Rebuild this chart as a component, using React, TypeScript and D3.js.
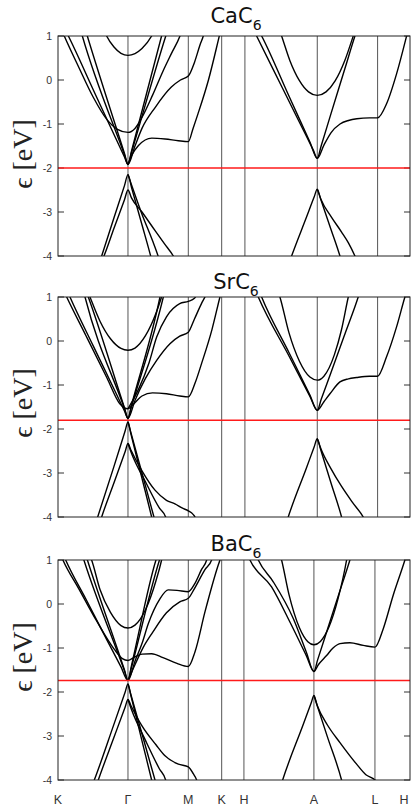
import React from 'react';
import * as d3 from 'd3';

type Pt = [number, number];

// ---------- data ----------
const kLabels = ['K', 'Γ', 'M', 'K', 'H', 'A', 'L', 'H'];
const kTicksCa = [0, 1, 1.862, 2.339, 2.671, 3.705, 4.567, 5.03];
const kTicksSr = [0, 1, 1.862, 2.339, 2.671, 3.705, 4.567, 5.03];
const kTicksBa = [0, 1, 1.862, 2.339, 2.657, 3.657, 4.529, 5.03];
const eTicks = [1, 0, -1, -2, -3, -4];
const metals = ['Ca', 'Sr', 'Ba'];
const fermiLevels = [-2.0, -1.8, -1.74];

const caBands: Pt[][] = [
  [[0.62, 1.3], [0.695, 1.0], [0.8, 0.75], [0.9, 0.607], [1, 0.56], [1.1, 0.6], [1.2, 0.714], [1.338, 1.0], [1.4, 1.2]],
  [[0.05, 1.15], [0.09, 1.0], [0.3, 0.28], [0.5, -0.38], [0.7, -0.9], [0.85, -1.12], [1, -1.19], [1.1, -1.1], [1.2, -0.85], [1.35, -0.35], [1.5, 0.2], [1.62, 0.6], [1.743, 1.0], [1.77, 1.12]],
  [[0.33, 1.1], [0.348, 1.0], [0.95, -1.7], [1, -1.92], [1.05, -1.62], [1.48, 1.0], [1.5, 1.12]],
  [[0.4, 1.1], [0.419, 1.0], [0.95, -1.67], [1, -1.92], [1.05, -1.65], [1.54, 1.0], [1.56, 1.1]],
  [[0.1, 1.15], [0.148, 1.0], [0.5, -0.21], [0.8, -1.24], [0.95, -1.75], [1, -1.92], [1.1, -1.5], [1.2, -1.1], [1.39, -0.62], [1.62, -0.16], [1.75, 0.0], [1.862, 0.09], [1.95, 0.4], [2.03, 0.8], [2.076, 1.0], [2.1, 1.15]],
  [[1, -1.92], [1.05, -1.72], [1.15, -1.49], [1.34, -1.32], [1.53, -1.34], [1.72, -1.38], [1.862, -1.4], [1.93, -1.1], [2.0, -0.77], [2.15, 0.0], [2.29, 0.9], [2.32, 1.1]],
  [[0.6, -4.12], [0.624, -4], [0.8, -3.13], [0.95, -2.4], [1, -2.15], [1.05, -2.44], [1.2, -3.29], [1.324, -4], [1.34, -4.1]],
  [[1, -2.15], [1.05, -2.38], [1.2, -3.05], [1.35, -3.65], [1.43, -4], [1.45, -4.1]],
  [[0.63, -4.1], [0.657, -4], [0.8, -3.37], [0.95, -2.72], [1, -2.5], [1.05, -2.68], [1.2, -3.0], [1.39, -3.43], [1.52, -3.72], [1.648, -4], [1.67, -4.06]],
  [[3.15, 1.2], [3.195, 1.0], [3.314, 0.44], [3.45, -0.015], [3.58, -0.27], [3.705, -0.35], [3.83, -0.27], [3.96, -0.02], [4.1, 0.45], [4.219, 1.0], [4.25, 1.15]],
  [[2.8, 1.12], [2.838, 1.0], [3.2, -0.16], [3.5, -1.12], [3.65, -1.6], [3.705, -1.78], [3.76, -1.5], [3.9, -0.77], [4.1, 0.26], [4.243, 1.0], [4.27, 1.13]],
  [[2.87, 1.12], [2.91, 1.0], [3.3, -0.365], [3.6, -1.41], [3.705, -1.78], [3.8, -1.48], [3.9, -1.2], [4.03, -1.0], [4.15, -0.92], [4.27, -0.88], [4.45, -0.86], [4.567, -0.86], [4.695, -0.54], [4.838, 0.14], [4.981, 1.0], [5.0, 1.12]],
  [[3.32, -4.08], [3.338, -4], [3.55, -3.12], [3.66, -2.66], [3.705, -2.48], [3.75, -2.69], [3.9, -3.39], [4.029, -4], [4.04, -4.06]],
  [[3.705, -2.48], [3.76, -2.72], [3.9, -3.1], [4.05, -3.45], [4.15, -3.7], [4.243, -4], [4.27, -4.1]],
];

const srBands: Pt[][] = [
  [[0.42, 1.15], [0.457, 1.0], [0.6, 0.45], [0.75, 0.05], [0.9, -0.17], [1, -0.21], [1.1, -0.16], [1.25, 0.12], [1.4, 0.63], [1.48, 1.0], [1.51, 1.15]],
  [[0.37, 1.1], [0.386, 1.0], [0.95, -1.535], [1, -1.76], [1.05, -1.46], [1.457, 1.0], [1.47, 1.1]],
  [[0.41, 1.1], [0.433, 1.0], [0.95, -1.52], [1, -1.76], [1.05, -1.49], [1.505, 1.0], [1.52, 1.1]],
  [[0.08, 1.15], [0.124, 1.0], [0.4, 0.12], [0.7, -0.84], [0.88, -1.42], [1, -1.54], [1.07, -1.45], [1.2, -1.25], [1.35, -1.18], [1.55, -1.2], [1.74, -1.25], [1.862, -1.27], [1.96, -0.95], [2.05, -0.52], [2.2, 0.26], [2.314, 1.0], [2.33, 1.1]],
  [[0.13, 1.15], [0.171, 1.0], [0.5, -0.1], [0.8, -1.09], [0.95, -1.59], [1, -1.76], [1.1, -1.35], [1.25, -0.85], [1.41, -0.44], [1.6, -0.06], [1.74, 0.11], [1.862, 0.2], [1.95, 0.5], [2.05, 0.85], [2.1, 1.0], [2.13, 1.1]],
  [[1, -1.54], [1.15, -1.1], [1.3, -0.5], [1.41, 0.09], [1.55, 0.55], [1.74, 0.85], [1.862, 0.9], [1.95, 0.97], [2.0, 1.1]],
  [[0.54, -4.13], [0.567, -4], [0.8, -2.85], [0.96, -2.04], [1, -1.84], [1.04, -2.1], [1.2, -3.12], [1.338, -4], [1.35, -4.08]],
  [[1, -1.84], [1.04, -2.07], [1.2, -3.0], [1.371, -4], [1.385, -4.08]],
  [[0.6, -4.12], [0.624, -4], [0.8, -3.22], [0.96, -2.51], [1, -2.33], [1.04, -2.47], [1.2, -2.95], [1.386, -3.39], [1.55, -3.62], [1.671, -3.7], [1.78, -3.8], [1.862, -3.86], [1.93, -3.94], [1.957, -4], [1.97, -4.1]],
  [[1, -2.33], [1.05, -2.55], [1.25, -3.2], [1.45, -3.8], [1.538, -4], [1.55, -4.08]],
  [[3.14, 1.15], [3.171, 1.0], [3.3, 0.19], [3.45, -0.46], [3.6, -0.82], [3.705, -0.89], [3.8, -0.8], [3.95, -0.31], [4.05, 0.25], [4.148, 1.0], [4.17, 1.15]],
  [[2.83, 1.12], [2.862, 1.0], [3.314, -0.38], [3.6, -1.26], [3.705, -1.576], [3.76, -1.33], [3.9, -0.72], [4.1, 0.16], [4.29, 1.0], [4.31, 1.1]],
  [[2.88, 1.12], [2.91, 1.0], [3.3, -0.26], [3.6, -1.23], [3.705, -1.576], [3.8, -1.38], [3.886, -1.2], [4.029, -0.93], [4.15, -0.86], [4.267, -0.83], [4.45, -0.8], [4.567, -0.8], [4.695, -0.36], [4.838, 0.32], [4.957, 1.0], [4.98, 1.12]],
  [[3.27, -4.1], [3.29, -4], [3.55, -2.885], [3.66, -2.41], [3.705, -2.22], [3.75, -2.45], [3.9, -3.22], [4.052, -4], [4.065, -4.08]],
  [[3.705, -2.22], [3.76, -2.46], [3.9, -2.9], [4.05, -3.3], [4.2, -3.65], [4.362, -4], [4.38, -4.05]],
];

const baBands: Pt[][] = [
  [[0.44, 1.15], [0.48, 1.0], [0.6, 0.33], [0.75, -0.19], [0.9, -0.49], [1, -0.545], [1.1, -0.48], [1.25, -0.13], [1.4, 0.53], [1.48, 1.0], [1.5, 1.15]],
  [[0.03, 1.15], [0.07, 1.0], [0.3, 0.34], [0.55, -0.38], [0.8, -1.02], [0.92, -1.24], [1, -1.283], [1.1, -1.2], [1.2, -1.14], [1.338, -1.13], [1.5, -1.22], [1.7, -1.35], [1.862, -1.42], [1.957, -1.09], [2.1, -0.18], [2.29, 0.886], [2.314, 1.0], [2.33, 1.1]],
  [[0.35, 1.1], [0.37, 1.0], [0.95, -1.52], [1, -1.74], [1.05, -1.4], [1.4, 1.0], [1.42, 1.1]],
  [[0.4, 1.1], [0.42, 1.0], [0.95, -1.5], [1, -1.74], [1.05, -1.44], [1.45, 1.0], [1.47, 1.1]],
  [[0.07, 1.15], [0.11, 1.0], [0.4, 0.107], [0.7, -0.82], [0.9, -1.43], [1, -1.74], [1.1, -1.3], [1.2, -0.9], [1.29, -0.45], [1.45, 0.1], [1.576, 0.32], [1.7, 0.31], [1.862, 0.28], [1.95, 0.45], [2.05, 0.78], [2.124, 1.0], [2.14, 1.1]],
  [[1, -1.74], [1.1, -1.38], [1.22, -0.98], [1.35, -0.65], [1.55, -0.2], [1.74, 0.05], [1.862, 0.13], [1.95, 0.35], [2.1, 0.78], [2.195, 1.0], [2.21, 1.1]],
  [[0.49, -4.12], [0.519, -4], [0.8, -2.73], [0.96, -2.0], [1, -1.816], [1.04, -2.07], [1.2, -3.11], [1.338, -4], [1.35, -4.08]],
  [[1, -1.816], [1.04, -2.05], [1.2, -2.95], [1.386, -4], [1.4, -4.08]],
  [[0.55, -4.12], [0.576, -4], [0.8, -3.03], [0.96, -2.34], [1, -2.17], [1.04, -2.3], [1.2, -2.77], [1.4, -3.2], [1.529, -3.45], [1.72, -3.64], [1.862, -3.7], [1.93, -3.85], [1.981, -4], [2.0, -4.1]],
  [[1, -2.17], [1.05, -2.4], [1.25, -3.1], [1.45, -3.75], [1.538, -4], [1.55, -4.08]],
  [[3.17, 1.15], [3.195, 1.0], [3.3, 0.22], [3.45, -0.54], [3.57, -0.857], [3.657, -0.925], [3.75, -0.85], [3.87, -0.53], [4.0, 0.11], [4.124, 1.0], [4.14, 1.15]],
  [[2.71, 1.12], [2.743, 1.0], [3.052, 0.39], [3.314, -0.41], [3.55, -1.18], [3.657, -1.534], [3.71, -1.27], [3.85, -0.58], [4.0, 0.16], [4.171, 1.0], [4.19, 1.1]],
  [[2.83, 1.12], [2.862, 1.0], [3.076, 0.505], [3.362, -0.33], [3.55, -1.1], [3.657, -1.534], [3.72, -1.38], [3.838, -1.17], [3.93, -1.0], [4.029, -0.9], [4.171, -0.88], [4.362, -0.94], [4.529, -0.98], [4.648, -0.56], [4.79, 0.2], [4.957, 1.0], [4.98, 1.12]],
  [[3.19, -4.1], [3.21, -4], [3.5, -2.755], [3.62, -2.24], [3.657, -2.08], [3.7, -2.29], [3.85, -3.02], [4.052, -4], [4.065, -4.08]],
  [[3.657, -2.08], [3.71, -2.33], [3.85, -2.75], [4.029, -3.15], [4.267, -3.64], [4.4, -3.88], [4.505, -3.97], [4.529, -4.0], [4.6, -4.05]],
];

// ---------- layout ----------
const W = 411;
const H = 811;
const plotLeft = 58;
const plotRight = 410;
const plotH = 220;
const panelTops = [36, 297, 560];
const titleYs = [23, 289, 551];
const ylabelYs = [154, 403, 657];

const panels = [
  { metal: metals[0], fermi: fermiLevels[0], bands: caBands, ticks: kTicksCa },
  { metal: metals[1], fermi: fermiLevels[1], bands: srBands, ticks: kTicksSr },
  { metal: metals[2], fermi: fermiLevels[2], bands: baBands, ticks: kTicksBa },
];

const x = d3.scaleLinear().domain([0, 5.03]).range([plotLeft, plotRight]);

function Panel({ idx }: { idx: number }) {
  const p = panels[idx];
  const top = panelTops[idx];
  const y = d3.scaleLinear().domain([-4, 1]).range([top + plotH, top]);
  const line = d3
    .line<Pt>()
    .x((d) => x(d[0]))
    .y((d) => y(d[1]))
    .curve(d3.curveMonotoneX);
  const clipId = `clip-${idx}`;
  const tickFont = "'Liberation Sans', Arial, sans-serif";
  return (
    <g>
      <defs>
        <clipPath id={clipId}>
          <rect x={plotLeft} y={top} width={plotRight - plotLeft} height={plotH} />
        </clipPath>
      </defs>
      {/* title */}
      <text
        x={236}
        y={titleYs[idx]}
        textAnchor="middle"
        fontFamily="'DejaVu Sans', sans-serif"
        fontSize={21}
        fill="#111"
      >
        {p.metal}C
        <tspan fontSize={14} dy={7}>
          6
        </tspan>
      </text>
      {/* y label */}
      <text
        transform={`translate(32,${ylabelYs[idx]}) rotate(-90)`}
        textAnchor="middle"
        fontFamily="'Liberation Serif', 'Times New Roman', 'DejaVu Serif', serif"
        fontSize={28}
        fill="#222"
      >
        ϵ [eV]
      </text>
      {/* symmetry lines */}
      {p.ticks.slice(1, -1).map((k, i) => (
        <line key={i} x1={x(k)} x2={x(k)} y1={top} y2={top + plotH} stroke="#555" strokeWidth={1} />
      ))}
      {/* y ticks */}
      {eTicks.map((v) => (
        <g key={v}>
          <line x1={plotLeft} x2={plotLeft + 6} y1={y(v)} y2={y(v)} stroke="#333" strokeWidth={1} />
          <line x1={plotRight - 6} x2={plotRight} y1={y(v)} y2={y(v)} stroke="#333" strokeWidth={1} />
          <text x={52} y={y(v) + 4} textAnchor="end" fontFamily={tickFont} fontSize={10.5} fill="#333">
            {v}
          </text>
        </g>
      ))}
      {/* bands */}
      <g clipPath={`url(#${clipId})`}>
        {p.bands.map((b, i) => (
          <path key={i} d={line(b) || ''} fill="none" stroke="#000" strokeWidth={1.4} />
        ))}
        <line
          x1={plotLeft}
          x2={plotRight}
          y1={y(p.fermi)}
          y2={y(p.fermi)}
          stroke="#ff1a1a"
          strokeWidth={1.5}
        />
      </g>
      {/* frame */}
      <rect x={plotLeft} y={top} width={plotRight - plotLeft} height={plotH} fill="none" stroke="#222" strokeWidth={1} />
      {/* x labels on bottom panel */}
      {idx === 2 &&
        p.ticks.map((k, i) => (
          <text
            key={i}
            x={Math.min(x(k), 404)}
            y={804}
            textAnchor="middle"
            fontFamily={tickFont}
            fontSize={12.5}
            fill="#333"
          >
            {kLabels[i]}
          </text>
        ))}
    </g>
  );
}

export default function App() {
  return (
    <svg
      width={W}
      height={H}
      viewBox={`0 0 ${W} ${H}`}
      style={{ position: 'absolute', left: 0, top: 0, background: '#fff' }}
    >
      <rect width={W} height={H} fill="#fff" />
      {panels.map((_, i) => (
        <Panel key={i} idx={i} />
      ))}
    </svg>
  );
}
